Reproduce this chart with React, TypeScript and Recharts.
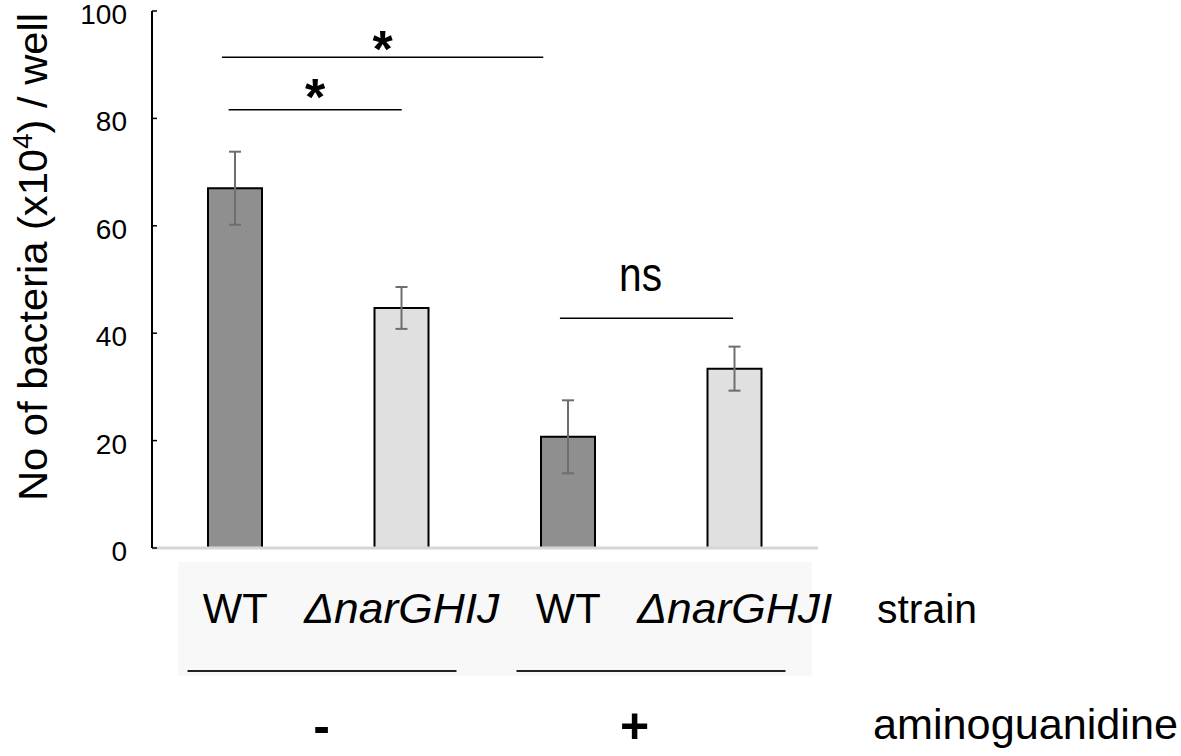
import { BarChart, Bar, XAxis, YAxis, Cell, ErrorBar, ReferenceLine, ReferenceArea } from 'recharts';

// bacteria counts per well (x10^4)
const strains = ['WT', 'ΔnarGHIJ', 'WT', 'ΔnarGHJI'];
const aminoguanidine = ['-', '-', '+', '+'];
const means = [67.0, 44.7, 20.7, 33.4];
const errors = [6.8, 3.9, 6.8, 4.1];
const yTicks = [0, 20, 40, 60, 80, 100];

// significance brackets (x in bar units, y in data units)
const sigLabels = ['*', '*', 'ns'];
const sigLevels = [91.4, 81.6, 42.8];
const sigSpans = [[0.42, 2.35], [0.46, 1.5], [2.45, 3.49]];

const data = strains.map((s, i) => ({
  strain: s,
  treatment: aminoguanidine[i],
  mean: means[i],
  err: errors[i],
}));

const DARK = '#8f8f8f';
const LIGHT = '#e0e0e0';

const StrainTick = ({ x, y, payload }: any) => {
  const label: string = payload.value;
  const isWT = label === 'WT';
  return (
    <text
      x={x}
      y={y + 75}
      textAnchor="middle"
      fontSize={42}
      fill="#000"
      fontStyle={isWT ? 'normal' : 'italic'}
      textLength={isWT ? 65 : 195}
      lengthAdjust="spacingAndGlyphs"
    >
      {label}
    </text>
  );
};

const GroupTick = ({ x, y, payload, index }: any) => {
  const first = index === 0;
  return (
    <g>
      <line x1={x - (first ? 131 : 135)} x2={x + (first ? 138 : 134)} y1={y + 3} y2={y + 3} stroke="#222" strokeWidth={2} />
      <text x={x + (first ? 3 : -17)} y={y + 75} textAnchor="middle" fontSize={50} fontWeight="bold" fill="#000">
        {payload.value}
      </text>
    </g>
  );
};

const StrainTitle = ({ viewBox }: any) => (
  <text x={viewBox.x + viewBox.width + 59} y={viewBox.y + 75} fontSize={40} fill="#000" textLength={100} lengthAdjust="spacingAndGlyphs">
    strain
  </text>
);

const GroupTitle = ({ viewBox }: any) => (
  <text x={viewBox.x + viewBox.width + 55} y={viewBox.y + 71} fontSize={42} fill="#000" textLength={305} lengthAdjust="spacingAndGlyphs">
    aminoguanidine
  </text>
);

const YTitle = ({ viewBox }: any) => {
  const cx = viewBox.x - 45;
  const cy = viewBox.y + 246;
  return (
    <text
      x={cx}
      y={cy}
      transform={`rotate(-90, ${cx}, ${cy})`}
      textAnchor="middle"
      fontSize={40}
      fill="#000"
      textLength={488}
      lengthAdjust="spacingAndGlyphs"
    >
      No of bacteria (x10<tspan fontSize={27} dy={-15}>4</tspan><tspan dy={15}>) / well</tspan>
    </text>
  );
};

const SigLabel = ({ viewBox, text, lift }: any) => {
  const cx = viewBox.x + viewBox.width / 2;
  if (text === 'ns') {
    return (
      <text x={cx - 6} y={viewBox.y - 27} textAnchor="middle" fontSize={48} fill="#000" textLength={43} lengthAdjust="spacingAndGlyphs">
        ns
      </text>
    );
  }
  return (
    <text x={cx} y={viewBox.y + lift} textAnchor="middle" fontSize={52} fontWeight="bold" fill="#000">
      {text}
    </text>
  );
};

export default function App() {
  return (
    <div style={{ position: 'absolute', left: 0, top: 0, fontFamily: '"Liberation Sans", Arial, Helvetica, sans-serif', background: '#fff' }}>
      <BarChart width={1181} height={756} data={data} margin={{ top: 11, right: 363, bottom: 0, left: 92 }}>
        <XAxis
          xAxisId="cat"
          dataKey="strain"
          height={120}
          tickLine={false}
          tickSize={0}
          tickMargin={0}
          axisLine={{ stroke: '#d6d6d6', strokeWidth: 3 }}
          tick={<StrainTick />}
          interval={0}
          label={<StrainTitle />}
        />
        <XAxis
          xAxisId="grp"
          dataKey="treatment"
          allowDuplicatedCategory={false}
          height={88}
          tickLine={false}
          tickSize={0}
          tickMargin={0}
          axisLine={false}
          tick={<GroupTick />}
          interval={0}
          label={<GroupTitle />}
        />
        <XAxis xAxisId="top" orientation="top" height={0} tick={false} tickLine={false} axisLine={{ stroke: '#000', strokeWidth: 2 }} />
        <XAxis xAxisId="num" type="number" dataKey="mean" domain={[0, 4]} allowDataOverflow hide />
        <YAxis
          yAxisId="left"
          width={60}
          domain={[0, 100]}
          ticks={yTicks}
          interval={0}
          tickSize={-5}
          tickMargin={30}
          tickLine={{ stroke: '#000', strokeWidth: 1.5 }}
          axisLine={{ stroke: '#000', strokeWidth: 2 }}
          tick={{ fontSize: 28, fill: '#000', dy: 3 }}
          label={<YTitle />}
        />
        <YAxis yAxisId="right" orientation="right" width={0} domain={[0, 100]} tick={false} tickLine={false} axisLine={{ stroke: '#000', strokeWidth: 2.5 }} />
        <ReferenceArea
          xAxisId="num"
          yAxisId="left"
          x1={0.156}
          x2={3.964}
          y1={-23.8}
          y2={-2.6}
          ifOverflow="visible"
          fill="#000"
          fillOpacity={0.028}
          stroke="none"
        />
        <Bar xAxisId="cat" yAxisId="left" dataKey="mean" barSize={54} stroke="#000" strokeWidth={2} isAnimationActive={false}>
          {data.map((d, i) => (
            <Cell key={i} fill={d.strain === 'WT' ? DARK : LIGHT} />
          ))}
          <ErrorBar dataKey="err" width={6} stroke="#6e6e6e" strokeWidth={2} isAnimationActive={false} />
        </Bar>
        {sigLabels.map((lab, i) => (
          <ReferenceLine
            key={i}
            xAxisId="num"
            yAxisId="left"
            segment={[
              { x: sigSpans[i][0], y: sigLevels[i] },
              { x: sigSpans[i][1], y: sigLevels[i] },
            ]}
            stroke="#000"
            strokeWidth={1.5}
            ifOverflow="visible"
            label={<SigLabel text={lab} lift={i === 0 ? 10 : 5} />}
          />
        ))}
      </BarChart>
    </div>
  );
}
